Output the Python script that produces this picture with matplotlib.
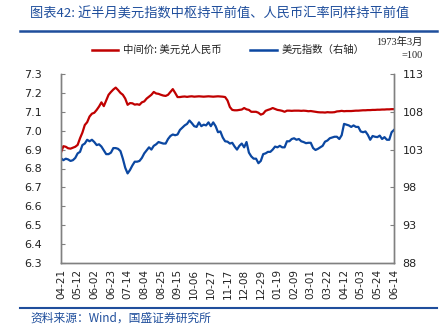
import matplotlib
matplotlib.use("Agg")
import matplotlib.pyplot as plt
import matplotlib.dates as mdates
from matplotlib.lines import Line2D
import pandas as pd

plt.rcParams['font.family'] = ['Noto Sans CJK SC', 'DejaVu Sans']

# Sampling dates (every 3 calendar days) and tick dates (every 21 days)
start, end = "2023-04-21", "2024-06-14"
dates = pd.date_range(start, end, freq="3D")
tick_dates = pd.date_range(start, end, freq="21D")

# USD/CNY central parity (left axis)
cny_mid = [
    6.885, 6.918, 6.915, 6.907, 6.905, 6.910, 6.915, 6.925, 6.960, 6.990,
    7.030, 7.045, 7.075, 7.090, 7.095, 7.110, 7.128, 7.150, 7.130, 7.160,
    7.190, 7.205, 7.218, 7.228, 7.215, 7.200, 7.190, 7.170, 7.137, 7.146,
    7.145, 7.138, 7.140, 7.137, 7.150, 7.155, 7.170, 7.180, 7.190, 7.205,
    7.197, 7.195, 7.190, 7.186, 7.184, 7.190, 7.205, 7.220, 7.200, 7.178,
    7.178, 7.180, 7.181, 7.179, 7.181, 7.182, 7.180, 7.181, 7.182, 7.181,
    7.180, 7.181, 7.182, 7.181, 7.180, 7.181, 7.182, 7.181, 7.180, 7.178,
    7.160, 7.125, 7.110, 7.108, 7.108, 7.110, 7.112, 7.120, 7.113, 7.110,
    7.100, 7.100, 7.100, 7.095, 7.085, 7.090, 7.105, 7.110, 7.114, 7.120,
    7.115, 7.110, 7.108, 7.105, 7.100, 7.106, 7.106, 7.105, 7.106, 7.106,
    7.106, 7.105, 7.106, 7.105, 7.103, 7.104, 7.102, 7.100, 7.098, 7.097,
    7.097, 7.096, 7.098, 7.097, 7.097, 7.098, 7.102, 7.103, 7.105, 7.103,
    7.104, 7.104, 7.104, 7.105, 7.106, 7.106, 7.107, 7.108, 7.108, 7.109,
    7.109, 7.110, 7.110, 7.111, 7.111, 7.112, 7.112, 7.113, 7.113, 7.114,
    7.114,
]

# US dollar index (right axis)
dxy = [
    101.85, 101.6, 101.8, 101.7, 101.5, 101.6, 101.9, 102.5, 102.7, 103.6,
    103.8, 104.3, 104.1, 104.3, 104.0, 103.6, 103.7, 103.4, 102.9, 102.4,
    102.4, 102.6, 103.2, 103.2, 103.1, 102.8, 101.8, 100.6, 99.85, 100.3,
    100.9, 101.4, 101.4, 101.5, 101.9, 102.5, 102.9, 103.3, 103.0, 103.5,
    103.7, 104.0, 103.9, 103.8, 103.8, 104.4, 104.8, 105.0, 104.9, 105.0,
    105.6, 105.9, 106.2, 106.4, 106.85, 106.5, 106.1, 106.0, 106.6, 106.1,
    106.3, 106.2, 106.6, 106.1, 106.6, 106.1, 105.3, 105.4, 104.6, 104.1,
    104.05, 103.8, 103.9, 103.4, 103.0, 103.5, 103.8, 103.3, 104.0, 102.6,
    102.1, 101.8, 101.8, 101.2, 101.5, 102.4, 102.5, 102.7, 102.7, 103.0,
    103.4, 103.3, 103.5, 103.3, 103.3, 104.1, 104.1, 104.4, 104.5, 104.3,
    104.4, 104.1, 104.0, 103.85, 103.9, 103.9, 103.2, 102.95, 103.1, 103.3,
    103.5, 104.05, 104.2, 104.5, 104.6, 104.7, 104.7, 104.4, 104.9, 106.4,
    106.3, 106.2, 106.0, 106.2, 106.0, 106.0, 105.4, 105.3, 105.4, 104.95,
    104.3, 104.8, 104.7, 104.65, 104.85, 104.4, 104.65, 104.3, 104.3, 105.3,
    105.6,
]

left_ticks = [6.3, 6.4, 6.5, 6.6, 6.7, 6.8, 6.9, 7.0, 7.1, 7.2, 7.3]
right_ticks = [88, 93, 98, 103, 108, 113]

RED = "#C00000"
BLUE = "#0B47A1"
TITLE_BLUE = "#1F4E9C"
SPINE = "#808080"

W, H = 448, 336
fig = plt.figure(figsize=(W / 100, H / 100), dpi=100)


def fx(px):
    return px / W


def fy(py):
    return 1 - py / H


ax = fig.add_axes([fx(61), fy(263), fx(394) - fx(61), fy(74) - fy(263)])
ax2 = ax.twinx()

ax.plot(dates, cny_mid, color=RED, lw=1.6, solid_joinstyle="round")
ax2.plot(dates, dxy, color=BLUE, lw=1.6, solid_joinstyle="round")

ax.set_xlim(pd.Timestamp(start), pd.Timestamp(end))
ax.set_ylim(6.3, 7.3)
ax2.set_ylim(88, 113)
ax.set_yticks(left_ticks)
ax.set_yticklabels([f"{v:.1f}" for v in left_ticks])
ax2.set_yticks(right_ticks)
ax2.set_yticklabels([str(v) for v in right_ticks])

ax.set_xticks(tick_dates)
ax.xaxis.set_major_formatter(mdates.DateFormatter("%m-%d"))
for lab in ax.get_xticklabels():
    lab.set_rotation(90)

for a in (ax, ax2):
    a.spines["top"].set_visible(False)
    for s in ("left", "right", "bottom"):
        a.spines[s].set_color(SPINE)
        a.spines[s].set_linewidth(1.0)
    a.tick_params(axis="y", direction="in", length=3, color=SPINE,
                  labelsize=8, labelcolor="#222222", pad=6)
    a.patch.set_visible(False)

ax.tick_params(axis="x", length=0, labelsize=7.5, labelcolor="#222222", pad=4)
ax.tick_params(axis="y", pad=14)
for lab in ax.get_yticklabels() + ax2.get_yticklabels() + ax.get_xticklabels():
    lab.set_fontfamily("DejaVu Sans")

# Title and rules
fig.text(fx(30), fy(14), "图表42: 近半月美元指数中枢持平前值、人民币汇率同样持平前值",
         color=TITLE_BLUE, fontsize=9.5, style="italic", va="center", ha="left")
fig.add_artist(Line2D([fx(20), fx(437)], [fy(30.5), fy(30.5)], color=TITLE_BLUE, lw=1.8))
fig.add_artist(Line2D([fx(20), fx(437)], [fy(307.5), fy(307.5)], color=TITLE_BLUE, lw=1.5))
fig.text(fx(30), fy(318), "资料来源：Wind，国盛证券研究所",
         color=TITLE_BLUE, fontsize=8.5, style="italic", va="center", ha="left")

# Legend
fig.add_artist(Line2D([fx(92), fx(118)], [fy(50), fy(50)], color=RED, lw=1.8))
fig.text(fx(123), fy(50), "中间价: 美元兑人民币", fontsize=7.5, color="#222222",
         va="center", ha="left")
fig.add_artist(Line2D([fx(250), fx(277)], [fy(50), fy(50)], color=BLUE, lw=1.8))
fig.text(fx(282), fy(50), "美元指数（右轴）", fontsize=7.5, color="#222222",
         va="center", ha="left")

# Right-axis base note
fig.text(fx(423), fy(42), "1973年3月", fontsize=7.5, color="#222222", va="center",
         ha="right", family=["Liberation Serif", "Noto Sans CJK SC"])
fig.text(fx(423), fy(56), "=100", fontsize=7.5, color="#222222", va="center",
         ha="right", family=["Liberation Serif", "Noto Sans CJK SC"])

fig.savefig("out.png", dpi=100)
